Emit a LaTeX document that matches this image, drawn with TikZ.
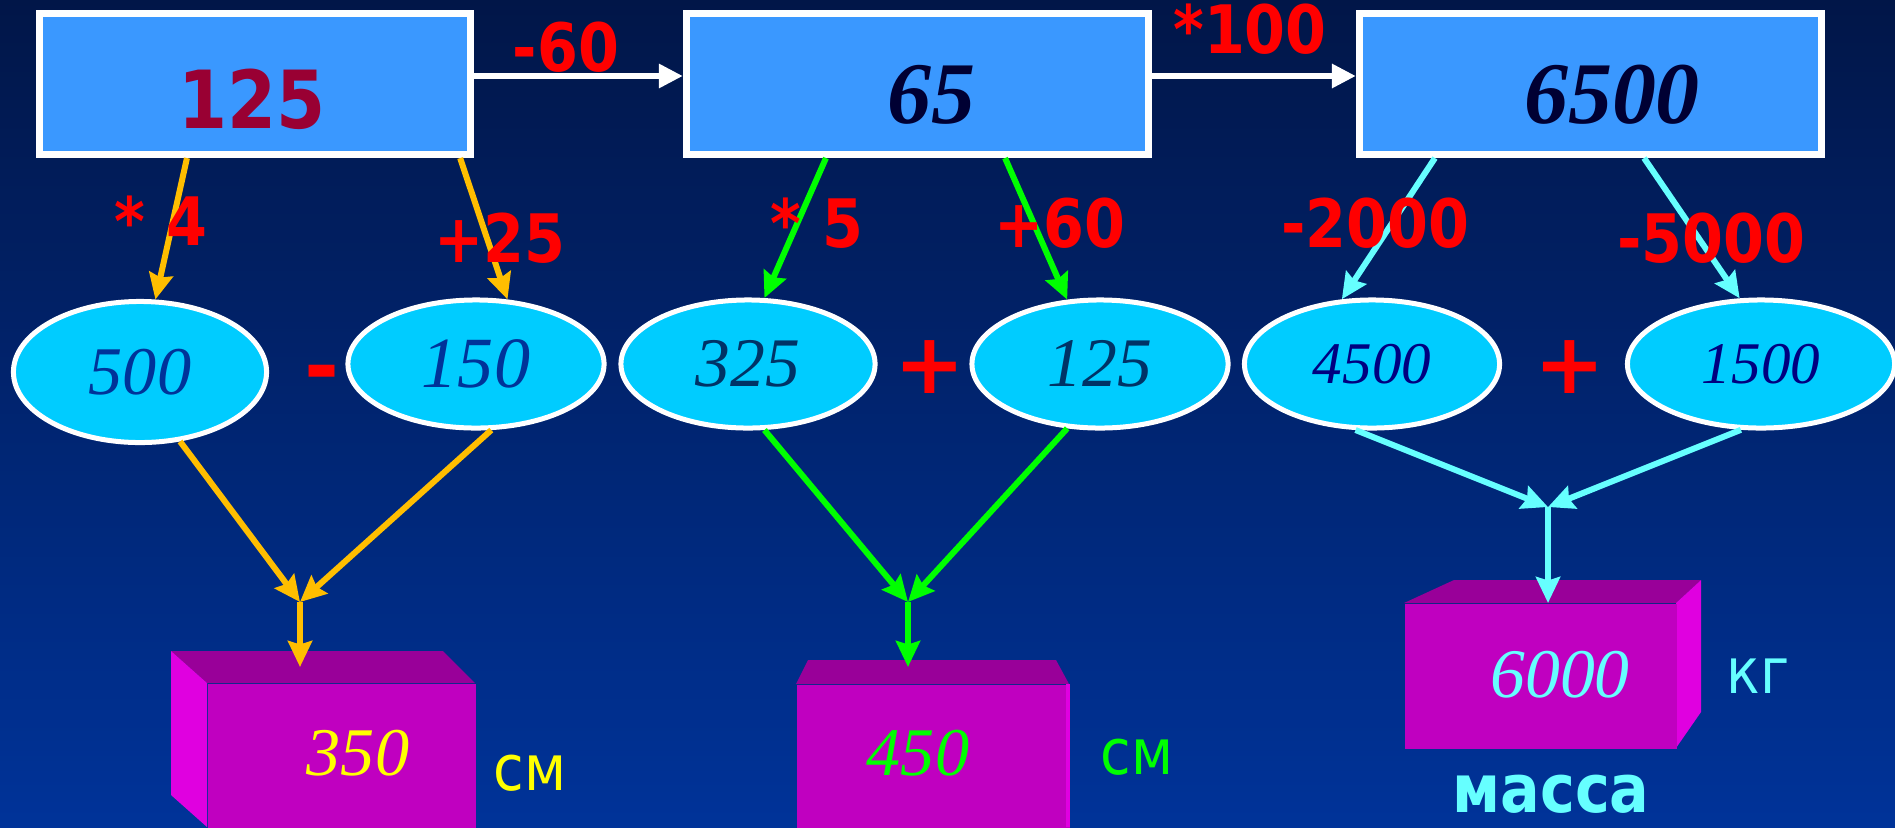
\documentclass[tikz,border=0pt]{standalone}
\usepackage{fontspec}
\setmainfont{Liberation Serif}
\newfontfamily\tah[FakeStretch=0.88]{DejaVu Sans}
\newfontfamily\dvs{DejaVu Sans}
\usetikzlibrary{arrows.meta,calc,shapes.geometric}
\definecolor{bgtop}{RGB}{1,22,72}
\definecolor{bgbot}{RGB}{0,51,153}
\definecolor{boxblue}{RGB}{58,152,255}
\definecolor{ellblue}{RGB}{0,204,255}
\definecolor{maroonx}{RGB}{153,0,51}
\definecolor{inkx}{RGB}{0,0,51}
\definecolor{navyA}{RGB}{0,51,153}
\definecolor{navyB}{RGB}{0,51,102}
\definecolor{navyC}{RGB}{0,0,128}
\definecolor{orng}{RGB}{255,190,0}
\definecolor{grn}{RGB}{0,255,0}
\definecolor{cyn}{RGB}{102,255,255}
\definecolor{redop}{RGB}{255,0,0}
\definecolor{mfront}{RGB}{192,0,192}
\definecolor{mtop}{RGB}{153,0,153}
\definecolor{mside}{RGB}{224,0,224}
\definecolor{yel}{RGB}{255,255,0}
\begin{document}
\begin{tikzpicture}[x=0.01cm,y=-0.01cm,
  topbox/.style={draw=white, line width=0.07cm, fill=boxblue, minimum height=1.41cm, inner sep=0},
  ell/.style={ellipse, draw=white, line width=0.05cm, fill=ellblue, inner sep=0},
  boxtxt/.style={anchor=base, inner sep=0, text=inkx, font=\bfseries\itshape\fontsize{25pt}{27pt}\selectfont},
  valtxt/.style={anchor=base, inner sep=0, font=\itshape\fontsize{19.4pt}{21pt}\selectfont},
  unit/.style={anchor=base, inner sep=0, font=\tah\fontsize{18pt}{20pt}\selectfont},
  op/.style={anchor=base, inner sep=0, text=redop, font=\tah\bfseries\fontsize{19pt}{20pt}\selectfont},
  sign/.style={inner sep=0, text=redop, font=\dvs\bfseries\fontsize{24pt}{25pt}\selectfont},
  flow/.style={line width=0.06cm, -{Stealth[length=0.26cm,width=0.24cm,inset=0.035cm]}},
  wflow/.style={line width=0.065cm, white, -{Triangle[length=0.24cm,width=0.23cm]}},
  front/.style={fill=mfront, inner sep=0, anchor=north west}]
\path[use as bounding box] (0,0) rectangle (1895,827);
\clip (0,0) rectangle (1895,827);
\shade[top color=bgtop, bottom color=bgbot] (0,0) rectangle (1895,827);

% top boxes
\node[topbox, minimum width=4.31cm] (b1) at (255,84) {};
\node[topbox, minimum width=4.62cm] (b2) at (917.5,84) {};
\node[topbox, minimum width=4.62cm] (b3) at (1590.5,84) {};
\node[anchor=base, inner sep=0, text=maroonx, font=\tah\bfseries\fontsize{22.8pt}{24pt}\selectfont] (t1) at (252,128) {125};
\node[boxtxt] (t2) at (931,123) {65};
\node[boxtxt] (t3) at (1612,123) {6500};

\draw[wflow] ([yshift=0.08cm]b1.east) -- ([yshift=0.08cm]b2.west);
\draw[wflow] ([yshift=0.08cm]b2.east) -- ([yshift=0.08cm]b3.west);

% ellipses
\node[ell, minimum width=2.53cm, minimum height=1.41cm, text=navyA, font=\itshape\fontsize{19.4pt}{21pt}\selectfont] (e1) at (140,372) {500};
\node[ell, minimum width=2.56cm, minimum height=1.28cm, text=navyA, font=\itshape\fontsize{20.5pt}{22pt}\selectfont] (e2) at (476,364) {150};
\node[ell, minimum width=2.54cm, minimum height=1.28cm, text=navyB, font=\itshape\fontsize{19.8pt}{21pt}\selectfont] (e3) at (748,364) {325};
\node[ell, minimum width=2.56cm, minimum height=1.28cm, text=navyB, font=\itshape\fontsize{19.8pt}{21pt}\selectfont] (e4) at (1100,364) {125};
\node[ell, minimum width=2.55cm, minimum height=1.28cm, text=navyC, font=\itshape\fontsize{16.8pt}{18pt}\selectfont] (e5) at (1372,364) {4500};
\node[ell, minimum width=2.67cm, minimum height=1.28cm, text=navyC, font=\itshape\fontsize{16.8pt}{18pt}\selectfont] (e6) at (1761,364) {1500};

\draw[flow, orng] ([xshift=-0.68cm]b1.south) -- (e1.78);
\draw[flow, orng] ([xshift=2.05cm]b1.south) -- (e2.64);
\draw[flow, grn] ([xshift=-0.915cm]b2.south) -- (e3.76);
\draw[flow, grn] ([xshift=0.875cm]b2.south) -- (e4.117);
\draw[flow, cyn] ([xshift=-1.555cm]b3.south) -- (e5.115);
\draw[flow, cyn] ([xshift=0.535cm]b3.south) -- (e6.108);

% 3D boxes
\fill[mtop] (171,651) -- (443,651) -- (475,683) -- (207,683) -- cycle;
\fill[mside] (171,651) -- (207,683) -- (207,827) -- (171,795) -- cycle;
\node[front, minimum width=2.68cm, minimum height=1.5cm] (f1) at (207,683) {};
\fill[mtop] (808,660) -- (1056,660) -- (1069,684) -- (796,684) -- cycle;
\node[front, minimum width=2.73cm, minimum height=1.5cm] (f2) at (796,684) {};
\fill[mside] (1066,684) rectangle (1070,827);
\fill[mtop] (1404,603) -- (1454,580) -- (1701,580) -- (1676,603) -- cycle;
\fill[mside] (1676,603) -- (1701,580) -- (1701,712) -- (1676,748) -- cycle;
\node[front, minimum width=2.72cm, minimum height=1.45cm] (f3) at (1404,603) {};

% merge arrows
\coordinate (m1) at (300,602);
\coordinate (m2) at (908,602);
\coordinate (m3) at (1548,507);
\draw[flow, orng] (e1.-60) -- (m1);
\draw[flow, orng] (e2.-77) -- (m1);
\draw[flow, grn] (e3.-76) -- (m2);
\draw[flow, grn] (e4.-117) -- (m2);
\draw[flow, cyn] (e5.-104) -- (m3);
\draw[flow, cyn] (e6.-107) -- (m3);
\draw[flow, orng] (m1) -- ($(m1 |- f1.north)+(0,-16)$);
\draw[flow, grn] (m2) -- ($(m2 |- f2.north)+(0,-17)$);
\draw[flow, cyn] (m3) -- (m3 |- f3.north);

% values and units
\node[valtxt, text=yel] (v1) at (358,775) {350};
\node[valtxt, text=grn] (v2) at (918,775) {450};
\node[valtxt, text=cyn, font=\itshape\fontsize{19.8pt}{21pt}\selectfont] (v3) at (1560,697) {6000};
\node[unit, text=yel] (u1) at (530,790) {см};
\node[unit, text=grn] (u2) at (1137,774) {см};
\node[unit, text=cyn] (u3) at (1758,693) {кг};
\node[anchor=base, inner sep=0, text=cyn, font=\tah\bfseries\fontsize{19pt}{21pt}\selectfont] (u4) at (1551,812) {масса};

% red labels
\node[op] (l1) at (566,71) {-60};
\node[op] (l2) at (1250,53) {*100};
\node[op] (l3) at (161,245) {* 4};
\node[op] (l4) at (500,262) {+25};
\node[op] (l5) at (817,247) {* 5};
\node[op] (l6) at (1060,247) {+60};
\node[op] (l7) at (1375,247) {-2000};
\node[op] (l8) at (1711,262) {-5000};
\node[sign] (s1) at (322,380) {-};
\node[sign] (s2) at (930,367) {+};
\node[sign] (s3) at (1570,367) {+};
\end{tikzpicture}
\end{document}
